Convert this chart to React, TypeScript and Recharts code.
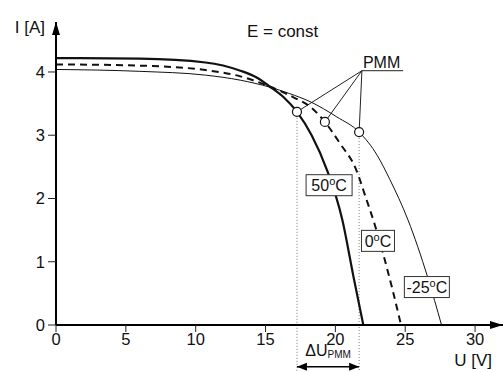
import { LineChart, Line, XAxis, YAxis, ReferenceDot, ReferenceLine } from "recharts";

// I-U curves of a PV module at three temperatures (E = const)
const uHot = [0, 6, 10.7, 13.2, 14.3, 15.3, 16.3, 17.25, 18.3, 19.4, 20.5, 21.3, 22];
const iHot = [4.22, 4.21, 4.15, 4.02, 3.92, 3.77, 3.6, 3.37, 3.0, 2.45, 1.66, 0.76, 0];
const uMid = [0, 6, 10.7, 13.2, 15.3, 17, 18.2, 19.25, 20.3, 21.5, 22.2, 22.8, 23.4, 24.1, 24.7];
const iMid = [4.12, 4.1, 4.03, 3.93, 3.77, 3.6, 3.45, 3.21, 2.88, 2.45, 2.0, 1.6, 1.14, 0.55, 0];
const uCold = [0, 6, 10.7, 13.2, 15.3, 16.7, 18.2, 20.1, 21.7, 23, 23.9, 25.2, 26.6, 27.6];
const iCold = [4.04, 4.01, 3.95, 3.87, 3.76, 3.66, 3.53, 3.29, 3.05, 2.68, 2.3, 1.66, 0.76, 0];

// maximum power points
const pmmU = [17.25, 19.25, 21.7];
const pmmI = [3.37, 3.21, 3.05];
const pmmLabelPos = { u: 21.9, i: 4.02 };

const xTicks = [0, 5, 10, 15, 20, 25, 30];
const yTicks = [0, 1, 2, 3, 4];
const xMax = 32;
const yMax = 4.79;

const tempLabels = [
  { u: 19.55, i: 2.21, t: "50", w: 46 },
  { u: 23.05, i: 1.33, t: "0", w: 33 },
  { u: 26.55, i: 0.6, t: "-25", w: 45 },
];

const toPoints = (us: number[], is: number[]) => us.map((u, k) => ({ u, i: is[k] }));

const FONT = "'Liberation Sans', Arial, sans-serif";

export default function App() {
  const hot = toPoints(uHot, iHot);
  const mid = toPoints(uMid, iMid);
  const cold = toPoints(uCold, iCold);
  const dimY = -0.66;

  return (
    <div style={{ position: "absolute", left: 0, top: 0, background: "#fff" }}>
      <LineChart
        width={503}
        height={372}
        margin={{ top: 22, right: 0, bottom: 17, left: 0 }}
        style={{ fontFamily: FONT }}
      >
        <XAxis
          type="number"
          dataKey="u"
          domain={[0, xMax]}
          ticks={xTicks}
          allowDataOverflow
          height={30}
          axisLine={{ stroke: "#000", strokeWidth: 2 }}
          tickLine={{ stroke: "#222", strokeWidth: 1 }}
          tickSize={7}
          tickMargin={1}
          tick={{ fill: "#111", fontSize: 16.5, fontFamily: FONT }}
        />
        <YAxis
          type="number"
          dataKey="i"
          domain={[0, yMax]}
          ticks={yTicks}
          allowDataOverflow
          width={56}
          axisLine={{ stroke: "#000", strokeWidth: 2 }}
          tickLine={{ stroke: "#222", strokeWidth: 1 }}
          tickSize={8}
          tickMargin={3}
          tick={{ fill: "#111", fontSize: 16.5, fontFamily: FONT }}
        />

        {/* dimension lines for delta U PMM */}
        <ReferenceLine
          segment={[{ x: pmmU[0], y: pmmI[0] }, { x: pmmU[0], y: -0.74 }]}
          stroke="#555"
          strokeWidth={0.8}
          strokeDasharray="1 2"
          ifOverflow="visible"
        />
        <ReferenceLine
          segment={[{ x: pmmU[2], y: pmmI[2] }, { x: pmmU[2], y: -0.74 }]}
          stroke="#555"
          strokeWidth={0.8}
          strokeDasharray="1 2"
          ifOverflow="visible"
        />
        <ReferenceLine
          segment={[{ x: pmmU[0], y: dimY }, { x: pmmU[2], y: dimY }]}
          stroke="#000"
          strokeWidth={1.5}
          ifOverflow="visible"
        />
        <ReferenceDot
          x={pmmU[0]}
          y={dimY}
          ifOverflow="visible"
          shape={(p: any) => (
            <path d={`M${p.cx},${p.cy} l10,-4 l0,8 z`} fill="#000" />
          )}
        />
        <ReferenceDot
          x={pmmU[2]}
          y={dimY}
          ifOverflow="visible"
          shape={(p: any) => (
            <path d={`M${p.cx},${p.cy} l-10,-4 l0,8 z`} fill="#000" />
          )}
        />
        <ReferenceDot
          x={(pmmU[0] + pmmU[2]) / 2}
          y={dimY}
          ifOverflow="visible"
          shape={(p: any) => (
            <text x={p.cx} y={p.cy - 11} textAnchor="middle" fontFamily={FONT} fill="#111">
              <tspan fontSize={16}>ΔU</tspan>
              <tspan fontSize={10} dy={2}>PMM</tspan>
            </text>
          )}
        />

        {/* PMM pointer lines */}
        {pmmU.map((u, k) => (
          <ReferenceLine
            key={"pl" + k}
            segment={[{ x: pmmLabelPos.u, y: pmmLabelPos.i }, { x: u, y: pmmI[k] }]}
            stroke="#222"
            strokeWidth={1}
            ifOverflow="visible"
          />
        ))}
        <ReferenceLine
          segment={[{ x: pmmLabelPos.u, y: pmmLabelPos.i }, { x: pmmLabelPos.u + 2.95, y: pmmLabelPos.i }]}
          stroke="#222"
          strokeWidth={1}
          ifOverflow="visible"
        />
        <ReferenceDot
          x={pmmLabelPos.u}
          y={pmmLabelPos.i}
          ifOverflow="visible"
          shape={(p: any) => (
            <text x={p.cx + 1} y={p.cy - 3} fontSize={16} fontFamily={FONT} fill="#111">
              PMM
            </text>
          )}
        />

        <Line
          data={cold}
          dataKey="i"
          type="monotone"
          stroke="#111"
          strokeWidth={1}
          dot={false}
          isAnimationActive={false}
        />
        <Line
          data={mid}
          dataKey="i"
          type="monotone"
          stroke="#111"
          strokeWidth={2}
          strokeDasharray="7 5"
          dot={false}
          isAnimationActive={false}
        />
        <Line
          data={hot}
          dataKey="i"
          type="monotone"
          stroke="#111"
          strokeWidth={2.2}
          dot={false}
          isAnimationActive={false}
        />

        {pmmU.map((u, k) => (
          <ReferenceDot
            key={"pmm" + k}
            x={u}
            y={pmmI[k]}
            r={4.5}
            fill="#fff"
            stroke="#111"
            strokeWidth={1.2}
          />
        ))}

        {tempLabels.map((l) => (
          <ReferenceDot
            key={l.t}
            x={l.u}
            y={l.i}
            ifOverflow="visible"
            shape={(p: any) => (
              <g>
                <rect
                  x={p.cx - l.w / 2}
                  y={p.cy - 10.5}
                  width={l.w}
                  height={21}
                  fill="#fff"
                  stroke="#333"
                  strokeWidth={1}
                />
                <text x={p.cx} y={p.cy + 6} textAnchor="middle" fontFamily={FONT} fill="#111">
                  <tspan fontSize={16}>{l.t}</tspan>
                  <tspan fontSize={11} dy={-6}>o</tspan>
                  <tspan fontSize={16} dy={6}>C</tspan>
                </text>
              </g>
            )}
          />
        ))}

        {/* axis arrows and titles */}
        <ReferenceDot
          x={0}
          y={yMax}
          ifOverflow="visible"
          shape={(p: any) => (
            <g>
              <path d={`M${p.cx},${p.cy} l-4,13 l8,0 z`} fill="#000" />
              <text x={p.cx - 11} y={p.cy + 11} textAnchor="end" fontSize={17} fontFamily={FONT} fill="#111">
                I [A]
              </text>
            </g>
          )}
        />
        <ReferenceDot
          x={xMax}
          y={0}
          ifOverflow="visible"
          shape={(p: any) => (
            <g>
              <path d={`M${p.cx},${p.cy} l-13,-4 l0,8 z`} fill="#000" />
              <text x={p.cx - 11} y={p.cy + 41} textAnchor="end" fontSize={17} fontFamily={FONT} fill="#111">
                U [V]
              </text>
            </g>
          )}
        />
        <ReferenceDot
          x={13.67}
          y={4.6}
          ifOverflow="visible"
          shape={(p: any) => (
            <text x={p.cx} y={p.cy + 3} fontSize={17} fontFamily={FONT} fill="#111">
              E = const
            </text>
          )}
        />
      </LineChart>
    </div>
  );
}
